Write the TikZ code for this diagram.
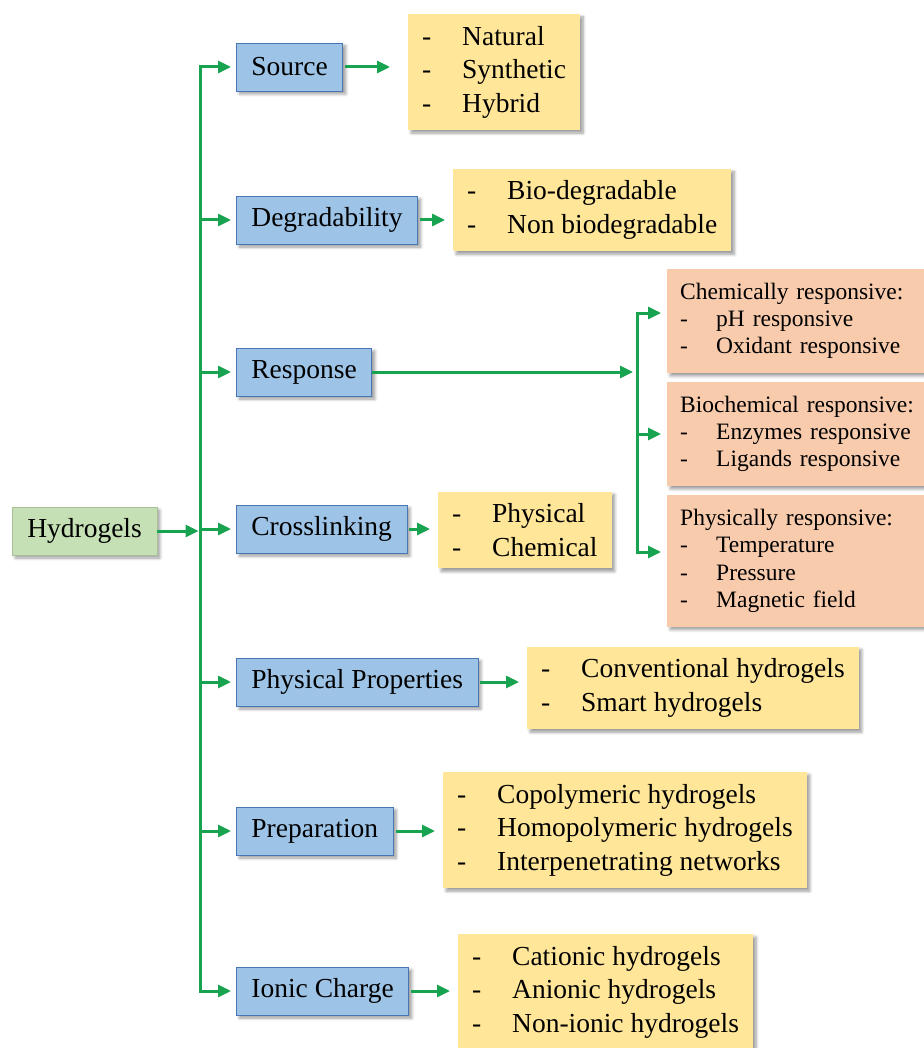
\documentclass[tikz,border=0pt]{standalone}
\usepackage{fontspec}
\setmainfont{Liberation Serif}
\usepackage{xcolor}
\usepackage{tikz}
\usetikzlibrary{positioning}
\usetikzlibrary{arrows.meta}
\usetikzlibrary{shadows.blur}

\definecolor{arrowgreen}{RGB}{24,163,80}
\definecolor{rootgreen}{RGB}{197,224,180}
\definecolor{catblue}{RGB}{157,195,230}
\definecolor{catborder}{RGB}{72,118,178}
\definecolor{listyellow}{RGB}{255,230,153}
\definecolor{listorange}{RGB}{248,203,173}

\newcommand{\itm}[1]{\makebox[40pt][l]{-}#1}
\newcommand{\subitm}[1]{\makebox[36pt][l]{-}#1}

\begin{document}
\begin{tikzpicture}[x=1pt,y=-1pt,
  every node/.style={font=\fontsize{27.5}{33.5}\selectfont},
  boxshadow/.style={blur shadow={shadow xshift=3pt,shadow yshift=-3pt,shadow blur steps=6,shadow blur radius=3pt}},
  rootbox/.style={boxshadow,fill=rootgreen,draw=rootgreen!85!black,line width=0.5pt,minimum height=48pt,inner xsep=15pt,anchor=west},
  catbox/.style={boxshadow,fill=catblue,draw=catborder,line width=0.8pt,minimum height=48pt,inner xsep=15pt,anchor=west},
  listbox/.style={boxshadow,fill=listyellow,align=left,inner xsep=14pt,inner ysep=12pt,anchor=west},
  respbox/.style={boxshadow,fill=listorange,align=left,text width=240pt,inner xsep=13pt,inner ysep=14pt,anchor=west,font=\fontsize{23.5}{27.3}\selectfont},
  link/.style={arrowgreen,line width=3pt},
  arr/.style={link,-{Triangle[length=13pt,width=12pt]}}]

\useasboundingbox (0,0) rectangle (923,1048);

% Draw root and categories
\node[rootbox] (hyd) at (12,531) {Hydrogels};
\node[catbox] (src) at (236,67) {Source};
\node[catbox] (deg) at (236,220) {Degradability};
\node[catbox] (resp) at (236,372) {Response};
\node[catbox] (cross) at (236,529) {Crosslinking};
\node[catbox] (phys) at (236,682) {Physical Properties};
\node[catbox] (prep) at (236,831) {Preparation};
\node[catbox] (ion) at (236,991) {Ionic Charge};

% Draw lists
\node[listbox] (srcl) at (408,72) {\itm{Natural}\\\itm{Synthetic}\\\itm{Hybrid}};
\node[listbox] (degl) at (453,210) {\itm{Bio-degradable}\\\itm{Non biodegradable}};
\node[listbox] (crossl) at (438,530) {\itm{Physical}\\\itm{Chemical}};
\node[listbox] (physl) at (527,688) {\itm{Conventional hydrogels}\\\itm{Smart hydrogels}};
\node[listbox] (prepl) at (443,830) {\itm{Copolymeric hydrogels}\\\itm{Homopolymeric hydrogels}\\\itm{Interpenetrating networks}};
\node[listbox] (ionl) at (458,992) {\itm{Cationic hydrogels}\\\itm{Anionic hydrogels}\\\itm{Non-ionic hydrogels}};

% Draw response types
\node[respbox] (chem) at (667,321) {Chemically responsive:\\\subitm{pH responsive}\\\subitm{Oxidant responsive}};
\node[respbox] (bio) at (667,434) {Biochemical responsive:\\\subitm{Enzymes responsive}\\\subitm{Ligands responsive}};
\node[respbox] (phyr) at (667,561) {Physically responsive:\\\subitm{Temperature}\\\subitm{Pressure}\\\subitm{Magnetic field}};

\coordinate (trunk) at (200,531);
\coordinate (trunkb) at (637,372);

% Draw main trunk
\draw[arr,shorten >=1.5pt] (hyd.east) -- (trunk);
\draw[arr,shorten >=5pt] (trunk) |- (src.west);
\draw[arr,shorten >=5pt] (trunk) |- (ion.west);
\foreach \n in {deg,resp,cross,phys,prep}
  \draw[arr,shorten >=5pt] (trunk |- \n.west) -- (\n.west);

% Draw category to list
\draw[arr,shorten <=2pt,shorten >=18pt] (src.east) -- (src.east -| srcl.west);
\foreach \n in {deg,cross,phys,prep,ion}
  \draw[arr,shorten <=2pt,shorten >=8pt] (\n.east) -- (\n.east -| \n l.west);

% Draw response branch
\draw[arr,shorten >=4pt] (resp.east) -- (trunkb);
\draw[arr,shorten >=6pt] (trunkb) |- ([yshift=8pt]chem.west);
\draw[arr,shorten >=6pt] (trunkb) |- ([yshift=9pt]phyr.west);
\draw[arr,shorten >=6pt] (trunkb |- bio.west) -- (bio.west);

\end{tikzpicture}
\end{document}
